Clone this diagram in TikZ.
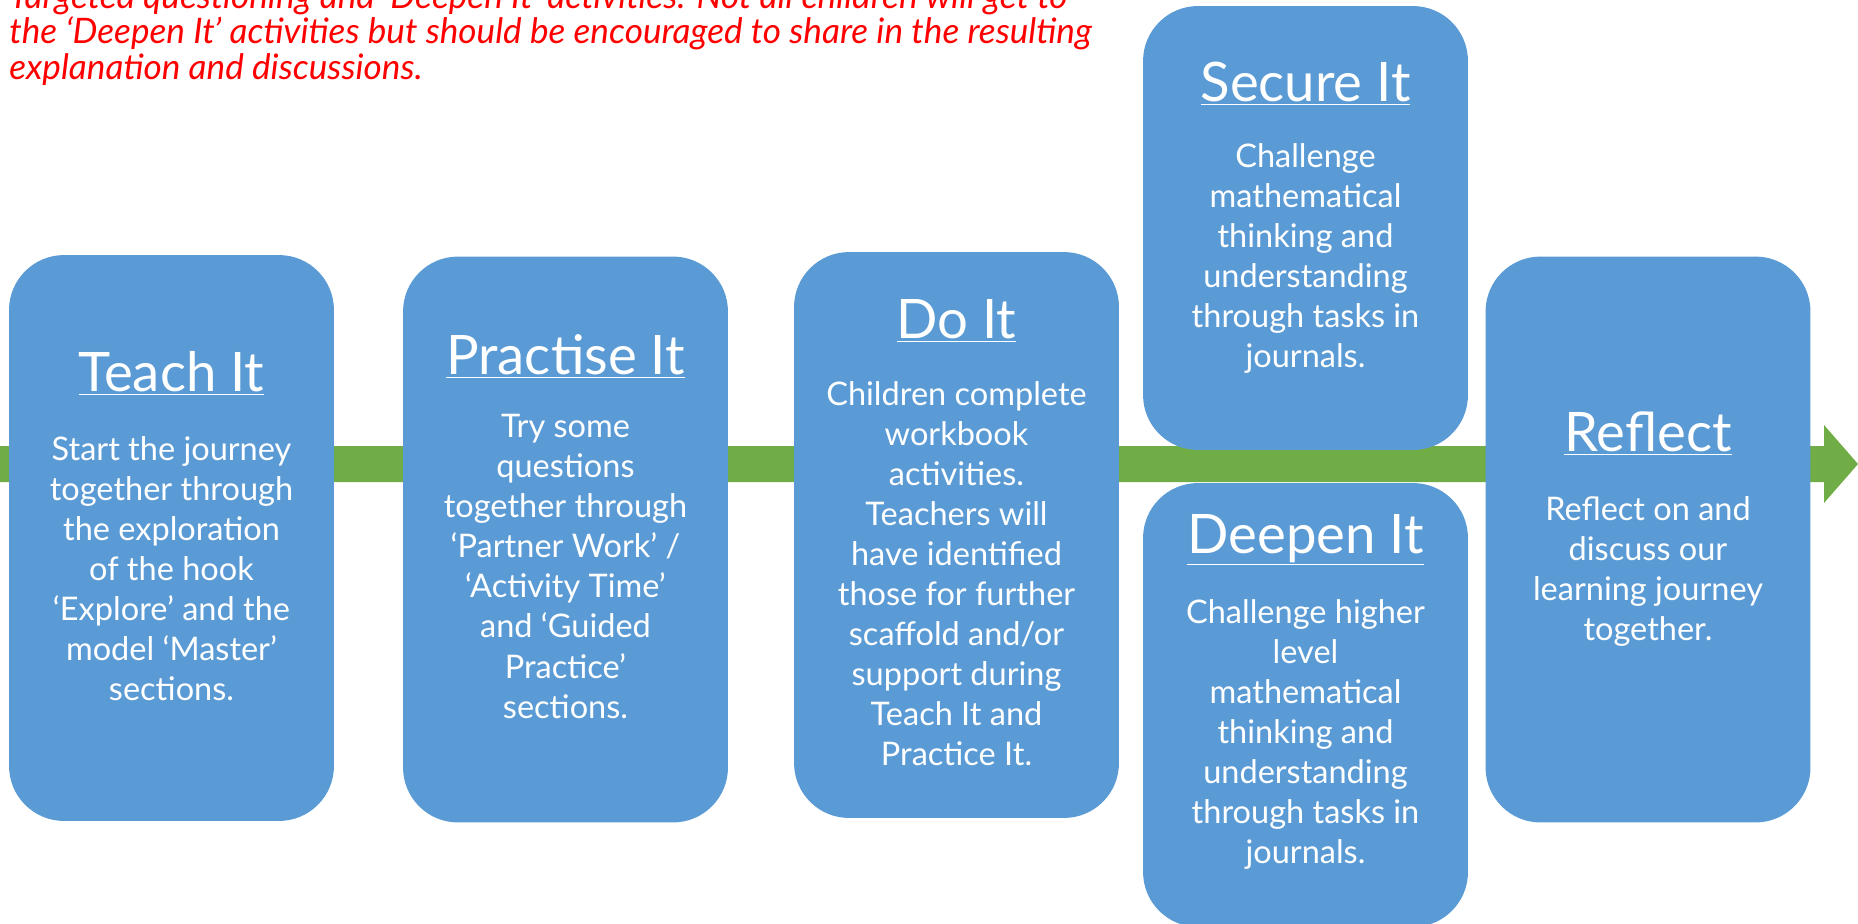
\documentclass[tikz,border=0pt]{standalone}
\usepackage{fontspec}
\setmainfont{Lato}
\definecolor{stageblue}{HTML}{5B9BD5}
\definecolor{pathgreen}{HTML}{70AD47}
\definecolor{notered}{HTML}{FF0000}
\tikzset{
  stage/.style={fill=stageblue, rounded corners=1.1cm, minimum width=6.5cm, minimum height=11.32cm, inner sep=0pt},
  heading/.style={text=white, font=\fontsize{31}{36}\selectfont, anchor=base, inner sep=0pt},
  blurb/.style={text=white, font=\fontsize{18.5}{22.8}\selectfont, align=center, anchor=north, inner sep=0pt},
  note/.style={text=notered, font=\itshape\fontsize{20}{20.2}\selectfont, align=left, anchor=north west, inner sep=0pt}
}
\begin{document}
\begin{tikzpicture}[x=0.02cm, y=-0.02cm]
    \useasboundingbox (0,0) rectangle (1858,923);
    \fill[pathgreen] (0,446) -- (1824,446) -- (1824,425) -- (1858,464) -- (1824,503) -- (1824,482) -- (0,482) -- cycle;
    \node[note] (intro) at (9,-19) {Targeted questioning and ‘Deepen It’ activities. Not all children will get to\\the ‘Deepen It’ activities but should be encouraged to share in the resulting\\explanation and discussions.};
    \node[stage] (teach) at (171.5,538) {};
    \node[stage] (practise) at (565.5,539.5) {};
    \node[stage] (do) at (956.5,535) {};
    \node[stage, minimum height=8.88cm] (secure) at (1305.5,228) {};
    \node[stage, minimum height=8.88cm] (deepen) at (1305.5,705) {};
    \node[stage] (reflect) at (1648,539.5) {};
    \node[heading] (teach-h) at (171.5,391) {\underline{Teach It}};
    \node[blurb] (teach-b) at (171.5,436) {Start the journey\\together through\\the exploration\\of the hook\\‘Explore’ and the\\model ‘Master’\\sections.};
    \node[heading] (practise-h) at (565.5,374) {\underline{Practise It}};
    \node[blurb] (practise-b) at (565.5,414) {Try some\\questions\\together through\\‘Partner Work’ /\\‘Activity Time’\\and ‘Guided\\Practice’\\sections.};
    \node[heading] (do-h) at (956.5,338) {\underline{Do It}};
    \node[blurb] (do-b) at (956.5,381) {Children complete\\workbook\\activities.\\Teachers will\\have identified\\those for further\\scaffold and/or\\support during\\Teach It and\\Practice It.};
    \node[heading] (secure-h) at (1305.5,101) {\underline{Secure It}};
    \node[blurb] (secure-b) at (1305.5,143) {Challenge\\mathematical\\thinking and\\understanding\\through tasks in\\journals.};
    \node[heading] (deepen-h) at (1305.5,553) {\underline{Deepen It}};
    \node[blurb] (deepen-b) at (1305.5,599) {Challenge higher\\level\\mathematical\\thinking and\\understanding\\through tasks in\\journals.};
    \node[heading] (reflect-h) at (1648,451) {\underline{Reflect}};
    \node[blurb] (reflect-b) at (1648,496) {Reflect on and\\discuss our\\learning journey\\together.};
\end{tikzpicture}
\end{document}
